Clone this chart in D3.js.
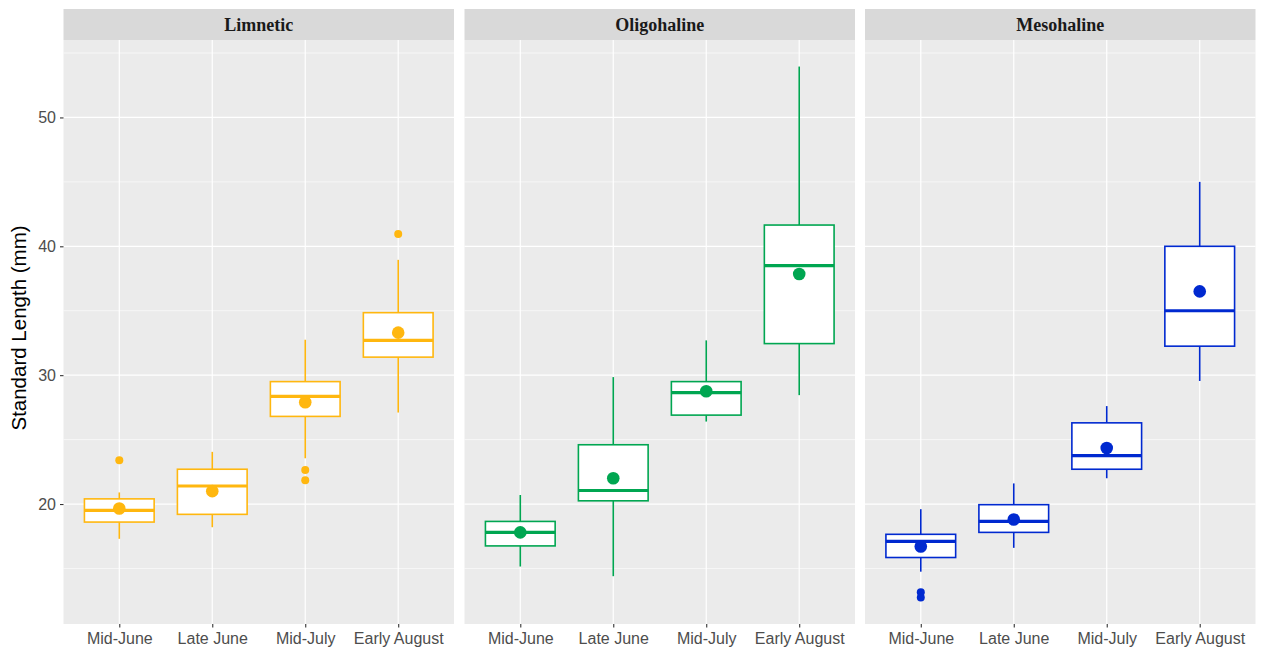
<!DOCTYPE html>
<html>
<head>
<meta charset="utf-8">
<script src="https://cdn.jsdelivr.net/npm/d3@7"></script>
<style>
  body { margin: 0; background: #fff; }
  svg { display: block; }
</style>
</head>
<body>
<div id="chart"></div>
<script>
// Boxplots of standard length by salinity zone and sampling period

var svgWidth = 1262;
var svgHeight = 651;

var periods = ["Mid-June", "Late June", "Mid-July", "Early August"];
var zones = ["Limnetic", "Oligohaline", "Mesohaline"];
var zoneColors = ["#FFB70F", "#00A651", "#0029D0"];

// box stats per zone: [lower whisker, Q1, median, Q3, upper whisker] per period
var limneticStats = [
    [17.3, 18.6, 19.5, 20.4, 20.9],
    [18.2, 19.2, 21.4, 22.7, 24.05],
    [23.55, 26.8, 28.35, 29.5, 32.75],
    [27.1, 31.4, 32.7, 34.85, 38.95]
];
var oligohalineStats = [
    [15.15, 16.75, 17.8, 18.65, 20.7],
    [14.4, 20.25, 21.05, 24.6, 29.85],
    [26.4, 26.9, 28.65, 29.5, 32.7],
    [28.45, 32.45, 38.5, 41.65, 53.95]
];
var mesohalineStats = [
    [14.75, 15.85, 17.1, 17.65, 19.6],
    [16.6, 17.8, 18.65, 19.95, 21.6],
    [22.0, 22.7, 23.75, 26.3, 27.6],
    [29.55, 32.25, 35.0, 40.0, 45.0]
];

var limneticMeans = [19.65, 21.0, 27.9, 33.3];
var oligohalineMeans = [17.8, 22.0, 28.75, 37.85];
var mesohalineMeans = [16.7, 18.8, 24.35, 36.5];

var limneticOutliers = [[23.4], [], [22.65, 21.85], [40.95]];
var oligohalineOutliers = [[], [], [], []];
var mesohalineOutliers = [[13.15, 12.75], [], [], []];

var statsByZone = [limneticStats, oligohalineStats, mesohalineStats];
var meansByZone = [limneticMeans, oligohalineMeans, mesohalineMeans];
var outliersByZone = [limneticOutliers, oligohalineOutliers, mesohalineOutliers];

var yTicks = [20, 30, 40, 50];
var yMinor = [15, 25, 35, 45, 55];

var margin = { top: 40, bottom: 27 };
var panelLefts = [63.5, 464.5, 865];
var panelWidth = 390.5;
var stripHeight = 31;
var panelTop = margin.top;
var panelBottom = svgHeight - margin.bottom;

var svg = d3.select("#chart")
    .append("svg")
    .attr("width", svgWidth)
    .attr("height", svgHeight);

// y scale with ggplot style 5% expansion
var allVals = [];
statsByZone.forEach(function(z) { z.forEach(function(s) { allVals = allVals.concat(s); }); });
outliersByZone.forEach(function(z) { z.forEach(function(o) { allVals = allVals.concat(o); }); });
var yMin = d3.min(allVals), yMax = d3.max(allVals);
var pad = (yMax - yMin) * 0.05;
var yScale = d3.scaleLinear()
    .domain([yMin - pad, yMax + pad])
    .range([panelBottom, panelTop]);

zones.forEach(function(zone, i) {
    var left = panelLefts[i];
    var color = zoneColors[i];
    var stats = statsByZone[i];
    var means = meansByZone[i];
    var outliers = outliersByZone[i];

    var xScale = d3.scalePoint()
        .domain(periods)
        .range([0, panelWidth])
        .padding(0.6);
    var step = xScale.step();
    var boxW = step * 0.75;

    var g = svg.append("g")
        .attr("transform", `translate(${left}, 0)`);

    // panel background
    g.append("rect")
        .attr("x", 0)
        .attr("y", panelTop)
        .attr("width", panelWidth)
        .attr("height", panelBottom - panelTop)
        .attr("fill", "#EBEBEB");

    // strip
    g.append("rect")
        .attr("x", 0)
        .attr("y", panelTop - stripHeight)
        .attr("width", panelWidth)
        .attr("height", stripHeight)
        .attr("fill", "#D9D9D9");
    g.append("text")
        .attr("x", panelWidth / 2)
        .attr("y", panelTop - stripHeight / 2)
        .attr("dy", "0.35em")
        .attr("text-anchor", "middle")
        .style("font-family", "'Liberation Serif', 'Times New Roman', serif")
        .style("font-weight", "bold")
        .style("font-size", "18px")
        .attr("fill", "#1A1A1A")
        .text(zone);

    // grid lines
    g.selectAll(".minor")
        .data(yMinor.filter(function(v) { return yScale(v) > panelTop; }))
        .enter()
        .append("line")
        .attr("x1", 0).attr("x2", panelWidth)
        .attr("y1", d => yScale(d)).attr("y2", d => yScale(d))
        .attr("stroke", "#fff")
        .attr("stroke-width", 0.6);
    g.selectAll(".major")
        .data(yTicks)
        .enter()
        .append("line")
        .attr("x1", 0).attr("x2", panelWidth)
        .attr("y1", d => yScale(d)).attr("y2", d => yScale(d))
        .attr("stroke", "#fff")
        .attr("stroke-width", 1.2);
    g.selectAll(".vgrid")
        .data(periods)
        .enter()
        .append("line")
        .attr("x1", d => xScale(d)).attr("x2", d => xScale(d))
        .attr("y1", panelTop).attr("y2", panelBottom)
        .attr("stroke", "#fff")
        .attr("stroke-width", 1.2);

    // x axis
    var xAxis = d3.axisBottom(xScale).tickSize(3.5).tickPadding(5);
    var ax = g.append("g")
        .attr("transform", `translate(0, ${panelBottom})`)
        .call(xAxis);
    ax.select(".domain").remove();
    ax.selectAll("line").attr("stroke", "#333").attr("stroke-width", 1.1);
    ax.selectAll("text")
        .attr("fill", "#4D4D4D")
        .style("font-family", "'Liberation Sans', Arial, sans-serif")
        .style("font-size", "16px");

    // boxes
    var boxes = g.selectAll(".box")
        .data(periods)
        .enter()
        .append("g");

    boxes.append("line")
        .attr("x1", d => xScale(d)).attr("x2", d => xScale(d))
        .attr("y1", (d, j) => yScale(stats[j][4]))
        .attr("y2", (d, j) => yScale(stats[j][3]))
        .attr("stroke", color).attr("stroke-width", 1.6);
    boxes.append("line")
        .attr("x1", d => xScale(d)).attr("x2", d => xScale(d))
        .attr("y1", (d, j) => yScale(stats[j][1]))
        .attr("y2", (d, j) => yScale(stats[j][0]))
        .attr("stroke", color).attr("stroke-width", 1.6);
    boxes.append("rect")
        .attr("x", d => xScale(d) - boxW / 2)
        .attr("width", boxW)
        .attr("y", (d, j) => yScale(stats[j][3]))
        .attr("height", (d, j) => yScale(stats[j][1]) - yScale(stats[j][3]))
        .attr("fill", "#fff")
        .attr("stroke", color)
        .attr("stroke-width", 1.6);
    boxes.append("line")
        .attr("x1", d => xScale(d) - boxW / 2).attr("x2", d => xScale(d) + boxW / 2)
        .attr("y1", (d, j) => yScale(stats[j][2]))
        .attr("y2", (d, j) => yScale(stats[j][2]))
        .attr("stroke", color).attr("stroke-width", 3.2);

    // outliers
    boxes.each(function(d, j) {
        d3.select(this).selectAll(".out")
            .data(outliers[j])
            .enter()
            .append("circle")
            .attr("cx", xScale(d))
            .attr("cy", v => yScale(v))
            .attr("r", 4)
            .attr("fill", color);
    });

    // means
    boxes.append("circle")
        .attr("cx", d => xScale(d))
        .attr("cy", (d, j) => yScale(means[j]))
        .attr("r", 6.3)
        .attr("fill", color);
});

// y axis on first panel
var yAxis = d3.axisLeft(yScale).tickValues(yTicks).tickSize(3.5).tickPadding(4);
var yAx = svg.append("g")
    .attr("transform", `translate(${panelLefts[0]}, 0)`)
    .call(yAxis);
yAx.select(".domain").remove();
yAx.selectAll("line").attr("stroke", "#333").attr("stroke-width", 1.1);
yAx.selectAll("text")
    .attr("fill", "#4D4D4D")
    .style("font-family", "'Liberation Sans', Arial, sans-serif")
    .style("font-size", "16px");

svg.append("text")
    .attr("transform", `translate(26, 328) rotate(-90)`)
    .attr("text-anchor", "middle")
    .style("font-family", "'Liberation Sans', Arial, sans-serif")
    .style("font-size", "20.5px")
    .attr("fill", "#000")
    .text("Standard Length (mm)");
</script>
</body>
</html>
